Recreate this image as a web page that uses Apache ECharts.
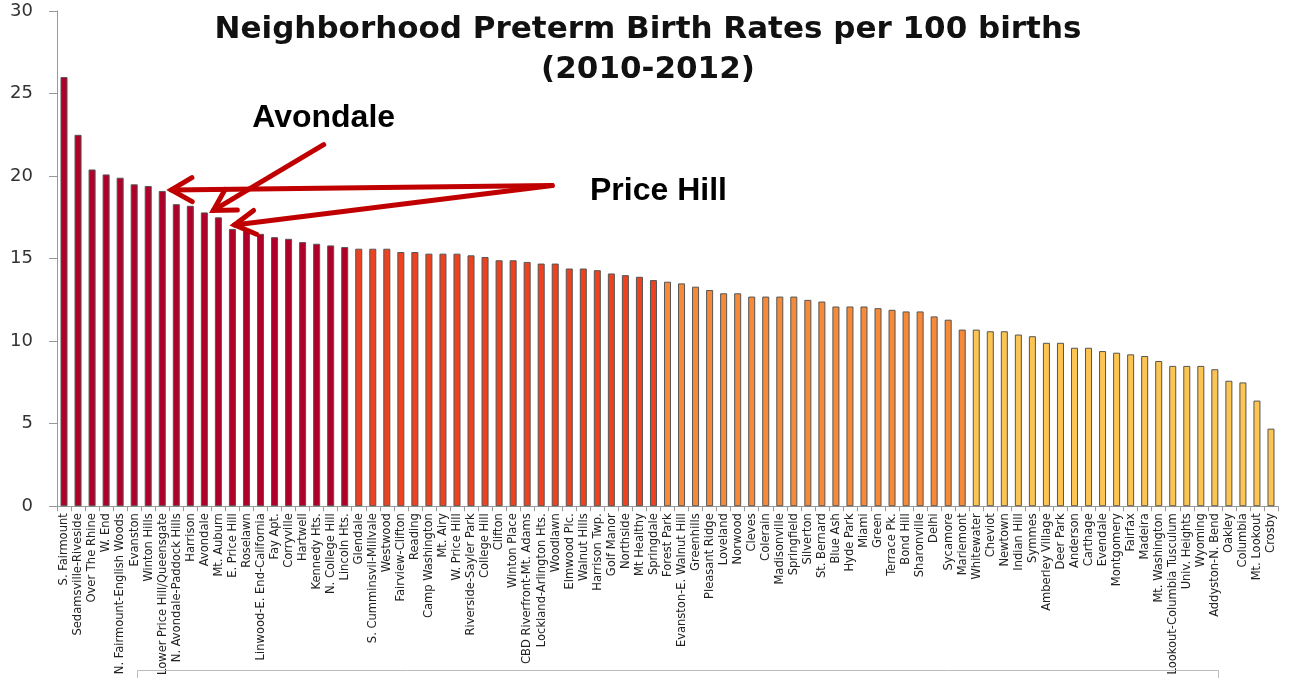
<!DOCTYPE html>
<html>
<head>
<meta charset="utf-8">
<script src="https://cdn.jsdelivr.net/npm/echarts@6/dist/echarts.min.js"></script>
<style>
html,body{margin:0;padding:0;background:#fff;}
#chart{width:1290px;height:678px;}
</style>
</head>
<body>
<div id="chart"></div>
<script>
const neighborhoods = [
  "S. Fairmount","Sedamsville-Riveside","Over The Rhine","W. End","N. Fairmount-English Woods",
  "Evanston","Winton Hills","Lower Price Hill/Queensgate","N. Avondale-Paddock Hills","Harrison",
  "Avondale","Mt. Auburn","E. Price Hill","Roselawn","Linwood-E. End-California",
  "Fay Apt.","Corryville","Hartwell","Kennedy Hts.","N. College Hill","Lincoln Hts.",
  "Glendale","S. Cumminsvil-Millvale","Westwood","Fairview-Clifton","Reading",
  "Camp Washington","Mt. Airy","W. Price Hill","Riverside-Sayler Park","College Hill",
  "Clifton","Winton Place","CBD Riverfront-Mt. Adams","Lockland-Arlington Hts.","Woodlawn",
  "Elmwood Plc.","Walnut Hills","Harrison Twp.","Golf Manor","Northside","Mt Healthy","Springdale",
  "Forest Park","Evanston-E. Walnut Hill","Greenhills","Pleasant Ridge","Loveland","Norwood",
  "Cleves","Colerain","Madisonville","Springfield","Silverton","St. Bernard","Blue Ash",
  "Hyde Park","Miami","Green","Terrace Pk.","Bond Hill","Sharonville","Delhi","Sycamore","Mariemont",
  "Whitewater","Cheviot","Newtown","Indian Hill","Symmes","Amberley Village","Deer Park",
  "Anderson","Carthage","Evendale","Montgomery","Fairfax","Madeira","Mt. Washington",
  "Lookout-Columbia Tusculum","Univ. Heights","Wyoming","Addyston-N. Bend","Oakley",
  "Columbia","Mt. Lookout","Crosby"
];
const rates = [
  26.0,22.5,20.4,20.1,19.9,19.5,19.4,19.1,18.3,18.2,
  17.8,17.5,16.8,16.7,16.5,16.3,16.2,16.0,15.9,15.8,15.7,
  15.6,15.6,15.6,15.4,15.4,15.3,15.3,15.3,15.2,15.1,
  14.9,14.9,14.8,14.7,14.7,14.4,14.4,14.3,14.1,14.0,13.9,13.7,
  13.6,13.5,13.3,13.1,12.9,12.9,12.7,12.7,12.7,12.7,12.5,12.4,12.1,
  12.1,12.1,12.0,11.9,11.8,11.8,11.5,11.3,10.7,
  10.7,10.6,10.6,10.4,10.3,9.9,9.9,9.6,9.6,9.4,9.3,9.2,9.1,8.8,
  8.5,8.5,8.5,8.3,7.6,7.5,6.4,4.7
];
const groupSizes = [21, 22, 22, 22];
const groupColors = ["#b0002a", "#ec4220", "#f68a38", "#fcc452"];
const yTicks = [0, 5, 10, 15, 20, 25, 30];
const titleLines = ["Neighborhood Preterm Birth Rates per 100 births", "(2010-2012)"];

function groupOf(i){
  let acc = 0;
  for (let g = 0; g < groupSizes.length; g++){ acc += groupSizes[g]; if (i < acc) return g; }
  return groupSizes.length - 1;
}

const chart = echarts.init(document.getElementById('chart'), null, {renderer:'canvas'});
const option = {
  animation: false,
  backgroundColor: '#fff',
  title: {
    text: titleLines.join('\n'),
    left: 643, top: 5, textAlign: 'center',
    textStyle: {fontFamily: 'DejaVu Sans', fontWeight: 'bold', fontSize: 31, color: '#111', lineHeight: 40}
  },
  grid: {left: 57, right: 12, top: 11, bottom: 170, containLabel: false},
  xAxis: {
    type: 'category',
    data: neighborhoods,
    axisLine: {lineStyle: {color: '#999', width: 1}},
    axisTick: {show: true, length: 5, lineStyle: {color: '#999'}},
    axisLabel: {
      interval: 0, rotate: 90, margin: 7,
      fontFamily: 'DejaVu Sans Condensed', fontSize: 12.8, color: '#222'
    }
  },
  yAxis: {
    type: 'value', min: yTicks[0], max: yTicks[yTicks.length-1], interval: 5,
    axisLine: {show: true, lineStyle: {color: '#999', width: 1}},
    axisTick: {show: true, inside: false, length: 8, lineStyle: {color: '#999'}},
    splitLine: {show: false},
    axisLabel: {fontFamily: 'DejaVu Sans', fontSize: 18, color: '#333', margin: 24}
  },
  series: [{
    type: 'bar',
    data: rates,
    barWidth: '50%',
    itemStyle: {
      color: function(p){ return groupColors[groupOf(p.dataIndex)]; },
      borderColor: '#555', borderWidth: 1
    }
  }]
};
chart.setOption(option);

function px(i, v){ return chart.convertToPixel({gridIndex: 0}, [i, v]); }
function arrow(tail, tip, color){
  const dx = tip[0]-tail[0], dy = tip[1]-tail[1];
  const len = Math.sqrt(dx*dx+dy*dy);
  const ux = dx/len, uy = dy/len;
  const L = 24, th = 30*Math.PI/180;
  const c = Math.cos(th), s = Math.sin(th);
  const a1 = [tip[0] - L*(ux*c - uy*s), tip[1] - L*(uy*c + ux*s)];
  const a2 = [tip[0] - L*(ux*c + uy*s), tip[1] - L*(uy*c - ux*s)];
  return [
    {type:'polyline', shape:{points:[tail, tip]}, style:{stroke:color, lineWidth:5, lineCap:'round'}, z:100},
    {type:'polyline', shape:{points:[a1, tip, a2]}, style:{stroke:color, lineWidth:5, lineCap:'round', lineJoin:'miter', fill:null}, z:100}
  ];
}
const iLPH = neighborhoods.indexOf("Lower Price Hill/Queensgate");
const iEPH = neighborhoods.indexOf("E. Price Hill");
const iAv = neighborhoods.indexOf("Avondale");
const pLPH = px(iLPH, rates[iLPH]);
const pEPH = px(iEPH, rates[iEPH]);
const pAv = px(iAv, rates[iAv]);
const tailPH = px(neighborhoods.indexOf("Woodlawn"), 19.43); tailPH[0] -= 3;
const tailAv = px(neighborhoods.indexOf("N. College Hill"), 21.9); tailAv[0] -= 7;
const txtAv = px(neighborhoods.indexOf("N. College Hill"), 23.5); txtAv[0] -= 7;
const txtPH = px(neighborhoods.indexOf("Springdale"), 19.1); txtPH[0] += 5;
const arrowColor = '#c00000';
let g = [];
g = g.concat(arrow(tailPH, [pLPH[0]+9, pLPH[1]-1], arrowColor));
g = g.concat(arrow(tailPH, [pEPH[0]+2, pEPH[1]-4], arrowColor));
g = g.concat(arrow(tailAv, [pAv[0]+9, pAv[1]-2], arrowColor));
g.push({type:'text', x: txtAv[0], y: txtAv[1], style:{text:'Avondale', fontFamily:'Liberation Sans', fontWeight:'bold', fontSize:32, fill:'#000', align:'center', verticalAlign:'middle'}, z:100});
g.push({type:'text', x: txtPH[0], y: txtPH[1], style:{text:'Price Hill', fontFamily:'Liberation Sans', fontWeight:'bold', fontSize:32, fill:'#000', align:'center', verticalAlign:'middle'}, z:100});
g.push({type:'rect', shape:{x:137.5, y:670.5, width:1081, height:30}, style:{stroke:'#bbb', fill:null, lineWidth:1}, z:1});
chart.setOption({graphic: g});
</script>
</body>
</html>
